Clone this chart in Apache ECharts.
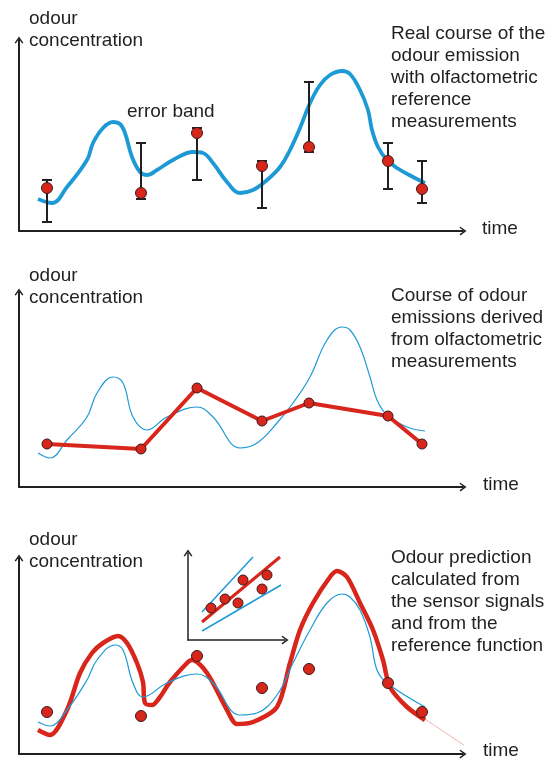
<!DOCTYPE html>
<html><head><meta charset="utf-8">
<script src="https://cdn.jsdelivr.net/npm/echarts@6/dist/echarts.min.js"></script>
<style>html,body{margin:0;padding:0;background:#fff}#c{width:559px;height:760px}</style>
</head><body><div id="c"></div>
<script>
// ---- Panel 1: real course + olfactometric reference measurements (time, concentration)
const realCourse = [[19,32],[33,28],[48,44],[68,71],[74,88],[84,103],[94,109],[101,107],[106,98],[113,74],[121,59],[128,56],[138,61],[154,71],[174,79],[184,78],[194,68],[208,49],[221,38],[234,41],[248,51],[261,64],[271,81],[281,103],[291,128],[301,146],[311,156],[323,160],[331,157],[341,141],[349,121],[353,101],[359,84],[368,71],[378,63],[394,54],[406,48]];
const refPoints1 = [[28,43],[122,38],[178,98],[243,65],[290,84],[369,70],[403,42]];
// error bars: [time, low, high]
const errorBand = [[28,9,51],[122,32,88],[178,51,103],[243,23,70],[290,79,149],[369,42,88],[403,28,70]];

// ---- Panel 2: course derived from olfactometric measurements
const realCourse2 = [[19,34],[31,29],[48,47],[68,70],[78,94],[94,110],[104,104],[114,70],[128,57],[148,70],[178,80],[194,70],[221,39],[238,44],[258,64],[274,84],[291,110],[308,147],[323,160],[331,157],[341,140],[351,110],[358,87],[368,72],[388,60],[406,56]];
const derived2 = [[28,43],[122,38],[178,99],[243,66],[290,84],[369,71],[403,43]];

// ---- Panel 3: prediction from sensor signals
const realCourse3 = [[19,32],[31,28],[48,44],[68,74],[78,94],[96,109],[104,104],[114,71],[124,57],[148,71],[178,80],[194,71],[221,39],[238,41],[258,59],[274,91],[291,124],[308,151],[323,160],[331,157],[341,144],[351,117],[358,84],[368,71],[406,47]];
const prediction3 = [[19,24],[31,19],[48,44],[61,81],[73,101],[84,111],[99,118],[108,111],[118,91],[124,72],[126,51],[133,49],[141,57],[151,72],[168,91],[173,94],[188,81],[208,44],[218,30],[234,32],[258,47],[271,91],[281,124],[294,151],[311,177],[318,183],[328,177],[341,151],[354,124],[364,94],[371,67],[388,47],[406,34]];
const extension3 = [[406,35],[464,-4]];
const refPoints3 = [[28,42],[122,38],[178,98],[243,66],[290,85],[369,71],[403,42]];

// ---- Inset: reference function (sensor signal vs olfactometry)
const insetUpper = [[14,28],[65,83]];
const insetLower = [[14,9],[93,55]];
const insetFit = [[14,18],[92,83]];
const insetPoints = [[23,32],[37,41],[55,60],[79,65],[74,51],[50,37]];

// ---- Texts
const yTitle = ['odour', 'concentration'];
const xTitle = 'time';
const caption1 = ['Real course of the', 'odour emission', 'with olfactometric', 'reference', 'measurements'];
const caption2 = ['Course of odour', 'emissions derived', 'from olfactometric', 'measurements'];
const caption3 = ['Odour prediction', 'calculated from', 'the sensor signals', 'and from the', 'reference function'];
const bandLabel = 'error band';

const INK = '#231f20', BLUE = '#1d9ad6', RED = '#d9261c';
const chevron = 'path://M5,0 L10,7 L8.6,8 L5,2.8 L1.4,8 L0,7 Z';

function xAx(gi, max) {
  return {type:'value', gridIndex:gi, min:0, max:max, axisTick:{show:false}, axisLabel:{show:false}, splitLine:{show:false},
    axisLine:{show:true, onZero:false, symbol:['none', chevron], symbolSize:[9,7], lineStyle:{color:INK, width:gi===3?1.5:2}}};
}
function yAx(gi, max) {
  return {type:'value', gridIndex:gi, min:0, max:max, axisTick:{show:false}, axisLabel:{show:false}, splitLine:{show:false},
    axisLine:{show:true, onZero:false, symbol:['none', chevron], symbolSize:[9,7], lineStyle:{color:INK, width:gi===3?1.5:2}}};
}

function txt(lines, x, top, size) {
  return {type:'text', x:x, y:top, z:100, style:{text:lines.join('\n'), font:(size||19)+'px "Liberation Sans", Arial, sans-serif', fill:INK, lineHeight:22, verticalAlign:'top'}};
}

const pointStyle = {color:RED, borderColor:'#3b1c1a', borderWidth:1, opacity:1};

const chart = echarts.init(document.getElementById('c'), null, {renderer:'canvas'});
chart.setOption({
  animation:false,
  backgroundColor:'#fff',
  grid:[
    {left:19, top:40, width:444, height:191},
    {left:19, top:292, width:444, height:195},
    {left:19, top:558, width:444, height:196},
    {left:188, top:553, width:97, height:87}
  ],
  xAxis:[xAx(0,444), xAx(1,444), xAx(2,444), xAx(3,97)],
  yAxis:[yAx(0,191), yAx(1,195), yAx(2,196), yAx(3,87)],
  graphic:[
    txt(yTitle, 29, 8), txt(caption1, 391, 23), txt([bandLabel], 127, 101), txt([xTitle], 482, 218),
    txt(yTitle, 29, 265), txt(caption2, 391, 285), txt([xTitle], 483, 474),
    txt(yTitle, 29, 529), txt(caption3, 391, 547), txt([xTitle], 483, 740)
  ],
  series:[
    {type:'line', xAxisIndex:0, yAxisIndex:0, data:realCourse, smooth:0.4, symbol:'none', lineStyle:{color:BLUE, width:3.8}, z:2},
    {type:'custom', xAxisIndex:0, yAxisIndex:0, data:errorBand, z:3,
      renderItem:function(params, api){
        const t = api.value(0);
        const a = api.coord([t, api.value(2)]), b = api.coord([t, api.value(1)]);
        const w = 5, st = {stroke:INK, lineWidth:2};
        return {type:'group', children:[
          {type:'line', shape:{x1:a[0], y1:a[1], x2:b[0], y2:b[1]}, style:st},
          {type:'line', shape:{x1:a[0]-w, y1:a[1], x2:a[0]+w, y2:a[1]}, style:st},
          {type:'line', shape:{x1:b[0]-w, y1:b[1], x2:b[0]+w, y2:b[1]}, style:st}
        ]};
      }},
    {type:'scatter', xAxisIndex:0, yAxisIndex:0, data:refPoints1, symbolSize:11, itemStyle:pointStyle, z:5},

    {type:'line', xAxisIndex:1, yAxisIndex:1, data:realCourse2, smooth:0.4, symbol:'none', lineStyle:{color:BLUE, width:1.2}, z:2},
    {type:'line', xAxisIndex:1, yAxisIndex:1, data:derived2, symbol:'circle', symbolSize:10, showSymbol:true, lineStyle:{color:RED, width:4}, itemStyle:pointStyle, z:4},

    {type:'line', xAxisIndex:2, yAxisIndex:2, data:realCourse3, smooth:0.4, symbol:'none', lineStyle:{color:BLUE, width:1.2}, z:3},
    {type:'line', xAxisIndex:2, yAxisIndex:2, data:prediction3, smooth:0.3, symbol:'none', lineStyle:{color:RED, width:4.5}, z:2},
    {type:'line', xAxisIndex:2, yAxisIndex:2, data:extension3, clip:false, symbol:'none', lineStyle:{color:'#f4b4b0', width:1}, z:1},
    {type:'scatter', xAxisIndex:2, yAxisIndex:2, data:refPoints3, symbolSize:11, itemStyle:pointStyle, z:5},

    {type:'line', xAxisIndex:3, yAxisIndex:3, data:insetUpper, symbol:'none', lineStyle:{color:BLUE, width:1.5}, z:2},
    {type:'line', xAxisIndex:3, yAxisIndex:3, data:insetLower, symbol:'none', lineStyle:{color:BLUE, width:1.5}, z:2},
    {type:'line', xAxisIndex:3, yAxisIndex:3, data:insetFit, symbol:'none', lineStyle:{color:RED, width:3}, z:3},
    {type:'scatter', xAxisIndex:3, yAxisIndex:3, data:insetPoints, symbolSize:10, itemStyle:pointStyle, z:5}
  ]
});
</script>
</body></html>
